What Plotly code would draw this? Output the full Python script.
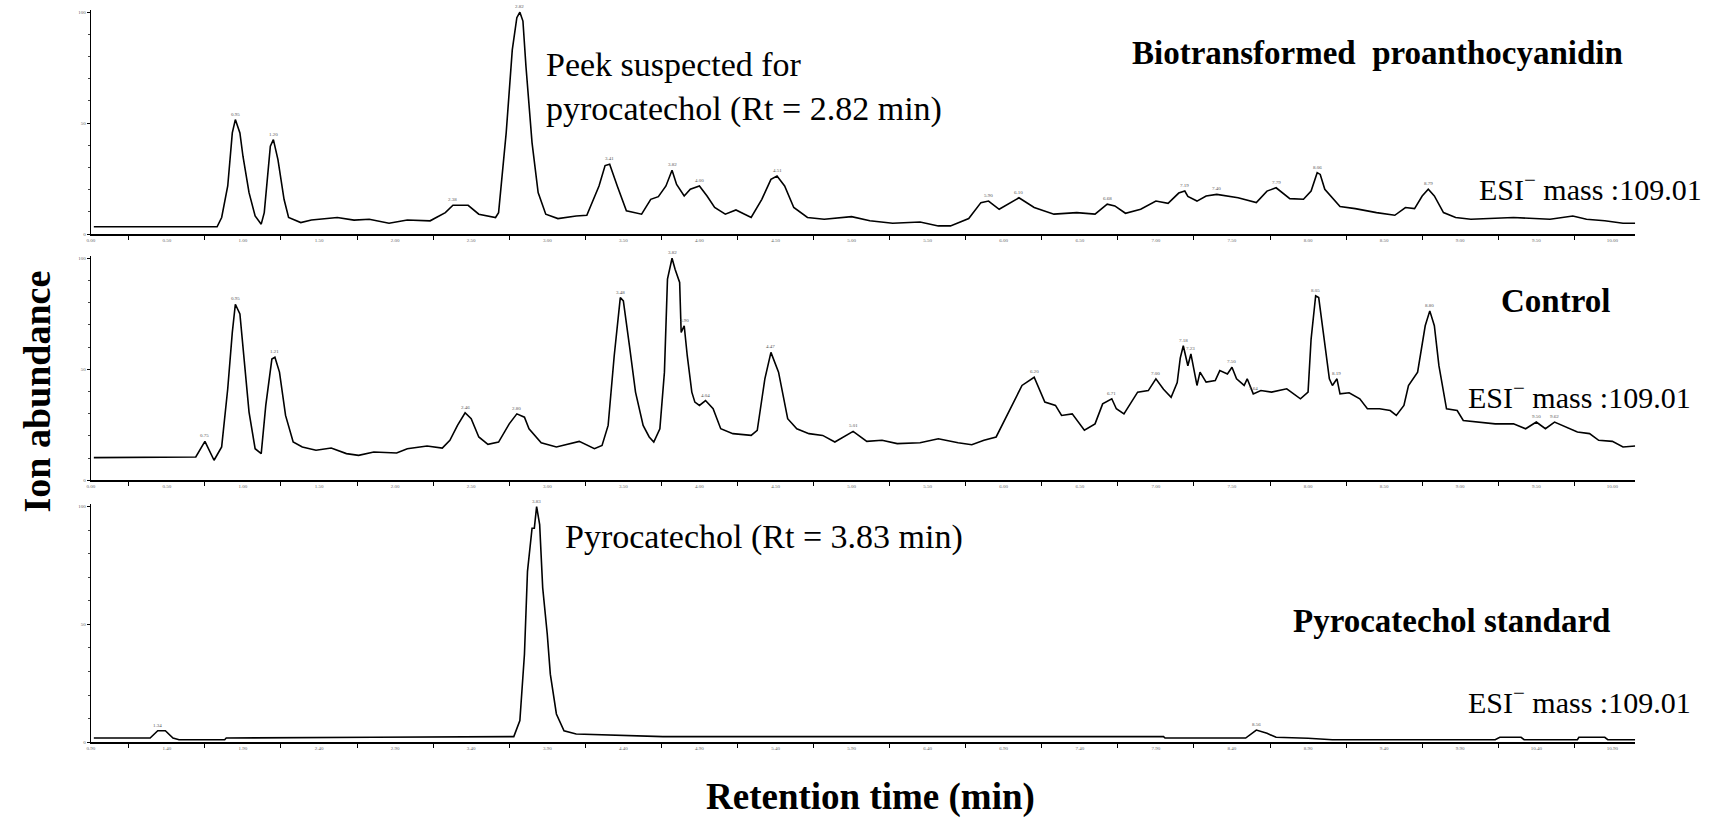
import plotly.graph_objects as go

# ---- chromatogram data: retention time (min) and relative ion abundance (%) ----
t_bio = [0.02, 0.83, 0.86, 0.90, 0.93, 0.95, 0.98, 1.00, 1.04, 1.08, 1.12, 1.14, 1.18, 1.20, 1.23,
         1.27, 1.30, 1.38, 1.45, 1.62, 1.73, 1.83, 1.96, 2.08, 2.23, 2.33, 2.38, 2.48, 2.55, 2.66,
         2.68, 2.73, 2.77, 2.80, 2.82, 2.84, 2.86, 2.90, 2.94, 2.99, 3.07, 3.19, 3.26, 3.34, 3.38,
         3.41, 3.46, 3.52, 3.62, 3.68, 3.73, 3.78, 3.82, 3.85, 3.90, 3.94, 4.00, 4.05, 4.10, 4.17,
         4.24, 4.34, 4.41, 4.47, 4.51, 4.56, 4.62, 4.71, 4.82, 5.00, 5.12, 5.27, 5.45, 5.57, 5.65,
         5.77, 5.85, 5.90, 5.97, 6.10, 6.20, 6.33, 6.48, 6.60, 6.68, 6.73, 6.80, 6.90, 7.00, 7.08,
         7.15, 7.19, 7.21, 7.27, 7.33, 7.40, 7.54, 7.66, 7.73, 7.79, 7.88, 7.97, 8.02, 8.06, 8.08,
         8.11, 8.21, 8.31, 8.45, 8.57, 8.64, 8.70, 8.75, 8.79, 8.83, 8.89, 8.97, 9.07, 9.35, 9.59,
         9.74, 9.83, 9.95, 10.07, 10.15]
ab_bio = [3.3, 3.3, 7.5, 21.7, 45.6, 51.6, 45.6, 35.1, 18.7, 8.2, 4.5, 9.7, 39.6, 42.6, 33.6,
          15.7, 7.5, 5.2, 6.4, 7.5, 6.3, 6.7, 4.9, 6.4, 6.0, 9.7, 13.0, 13.0, 9.0, 7.5,
          9.7, 45.6, 83.0, 97.5, 100.0, 96.0, 75.5, 41.1, 18.7, 9.0, 7.0, 8.2, 8.5, 21.7, 30.9,
          31.5, 21.7, 10.5, 9.0, 15.7, 16.9, 21.7, 28.8, 22.4, 17.2, 20.2, 21.7, 17.2, 12.0, 9.0,
          10.9, 7.5, 15.7, 24.7, 26.2, 21.7, 12.0, 7.5, 6.7, 7.9, 6.0, 4.9, 5.5, 3.7, 3.7,
          7.0, 14.2, 14.9, 11.2, 16.4, 12.0, 9.0, 9.7, 9.0, 13.5, 12.7, 9.4, 11.2, 14.9, 13.9,
          18.5, 19.4, 17.0, 14.9, 17.2, 17.9, 16.4, 14.2, 19.4, 20.9, 16.0, 15.7, 19.4, 27.7, 26.9,
          20.2, 12.4, 11.5, 9.7, 8.5, 12.0, 11.5, 17.2, 20.2, 17.2, 9.7, 7.5, 6.7, 7.5, 6.7,
          8.2, 6.7, 6.0, 4.9, 4.9]

t_ctrl = [0.02, 0.65, 0.69, 0.75, 0.81, 0.86, 0.90, 0.93, 0.95, 0.98, 1.00, 1.04, 1.08, 1.12, 1.15,
          1.19, 1.21, 1.24, 1.28, 1.33, 1.39, 1.48, 1.58, 1.68, 1.76, 1.86, 2.01, 2.08, 2.21, 2.31,
          2.36, 2.41, 2.46, 2.50, 2.55, 2.61, 2.68, 2.75, 2.80, 2.85, 2.88, 2.96, 3.06, 3.21, 3.31,
          3.36, 3.40, 3.44, 3.48, 3.50, 3.54, 3.58, 3.63, 3.67, 3.70, 3.74, 3.77, 3.79, 3.82, 3.84,
          3.87, 3.88, 3.90, 3.92, 3.95, 3.97, 4.00, 4.04, 4.09, 4.14, 4.22, 4.34, 4.38, 4.43, 4.47,
          4.52, 4.58, 4.64, 4.72, 4.81, 4.89, 5.01, 5.10, 5.20, 5.30, 5.45, 5.57, 5.70, 5.79, 5.87,
          5.95, 6.02, 6.12, 6.20, 6.27, 6.34, 6.38, 6.45, 6.53, 6.60, 6.65, 6.71, 6.74, 6.79, 6.88,
          6.95, 7.00, 7.05, 7.10, 7.14, 7.16, 7.18, 7.21, 7.23, 7.27, 7.29, 7.33, 7.39, 7.42, 7.47,
          7.50, 7.53, 7.58, 7.60, 7.64, 7.69, 7.76, 7.86, 7.95, 8.00, 8.02, 8.05, 8.07, 8.10, 8.14,
          8.16, 8.19, 8.21, 8.27, 8.34, 8.39, 8.47, 8.54, 8.58, 8.63, 8.66, 8.72, 8.77, 8.80, 8.83,
          8.86, 8.91, 8.98, 9.02, 9.12, 9.23, 9.35, 9.43, 9.50, 9.56, 9.62, 9.69, 9.77, 9.85, 9.91,
          10.00, 10.07, 10.15]
ab_ctrl = [10.2, 10.5, 10.5, 17.5, 9.0, 15.0, 41.2, 66.6, 79.3, 74.9, 59.1, 30.7, 14.2, 12.0, 33.7,
           54.6, 55.4, 48.7, 29.2, 17.2, 15.0, 13.5, 14.5, 12.0, 11.2, 12.7, 12.3, 14.2, 15.4, 14.5,
           18.0, 24.7, 30.4, 27.7, 19.5, 16.2, 17.2, 25.4, 29.9, 28.4, 23.2, 16.9, 15.0, 17.5, 14.2,
           15.7, 24.7, 56.1, 82.3, 80.8, 60.6, 39.7, 24.7, 19.5, 17.2, 23.2, 48.7, 90.6, 100.0, 95.1,
           89.1, 66.6, 69.6, 56.1, 39.7, 35.2, 33.7, 35.9, 32.2, 23.2, 21.0, 20.2, 22.5, 45.7, 57.6,
           48.7, 27.7, 23.2, 21.0, 20.2, 17.2, 22.0, 17.5, 18.0, 16.5, 16.9, 18.7, 16.9, 16.0, 18.0,
           19.5, 29.2, 42.7, 46.4, 35.2, 33.7, 29.2, 29.9, 22.5, 25.4, 34.4, 36.7, 32.2, 29.9, 39.7,
           40.4, 45.7, 41.0, 37.4, 44.0, 55.0, 60.6, 51.6, 56.9, 42.7, 48.7, 44.2, 44.9, 49.4, 47.9,
           50.9, 45.7, 42.7, 45.7, 38.9, 40.4, 39.7, 41.2, 36.7, 39.7, 63.6, 83.1, 82.3, 66.6, 45.7,
           42.7, 45.7, 38.9, 39.4, 36.7, 32.2, 32.2, 31.4, 29.2, 33.7, 42.7, 48.7, 69.6, 76.3, 69.6,
           51.6, 32.2, 31.4, 26.9, 26.2, 25.4, 25.4, 23.2, 26.2, 23.2, 26.2, 24.0, 21.7, 21.0, 18.0,
           17.5, 15.0, 15.4]

t_std = [0.92, 1.29, 1.34, 1.39, 1.44, 1.48, 1.78, 1.79, 2.76, 3.23, 3.68, 3.72, 3.75, 3.77, 3.80,
         3.815, 3.83, 3.85, 3.87, 3.90, 3.92, 3.96, 4.01, 4.09, 4.49, 4.66, 7.95, 7.96, 8.49, 8.56,
         8.63, 8.69, 8.90, 9.06, 10.13, 10.16, 10.30, 10.32, 10.67, 10.68, 10.85, 10.87, 11.05]
ab_std = [1.8, 1.8, 4.9, 4.9, 1.8, 1.1, 1.1, 1.8, 2.1, 2.4, 2.4, 9.2, 37.3, 72.5, 90.8,
          90.8, 100.0, 92.3, 65.5, 45.8, 28.9, 12.0, 4.9, 3.5, 2.8, 2.4, 2.4, 1.8, 1.8, 5.2,
          3.8, 2.1, 1.7, 1.1, 1.1, 2.1, 2.1, 1.1, 1.1, 2.1, 2.1, 1.1, 1.1]

# retention times of the integrated peaks that carry a small Rt tag
peaks_bio = [0.95, 1.20, 2.38, 2.82, 3.41, 3.82, 4.00, 4.51, 5.90, 6.10, 6.68, 7.19, 7.40, 7.79, 8.06, 8.79]
peaks_ctrl = [0.75, 0.95, 1.21, 2.46, 2.80, 3.48, 3.82, 3.90, 4.04, 4.47, 5.01, 6.20, 6.71, 7.00,
              7.18, 7.23, 7.50, 7.64, 8.05, 8.19, 8.80, 9.50, 9.62]
peaks_std = [1.34, 3.83, 8.56]

panel_titles = ["Biotransformed  proanthocyanidin", "Control", "Pyrocatechol standard"]
mass_label = "ESI<sup>\u2212</sup> mass :109.01"
note_bio = "Peek suspected for<br>pyrocatechol (Rt = 2.82 min)"
note_std = "Pyrocatechol (Rt = 3.83 min)"
x_title = "Retention time (min)"
y_title = "Ion abundance"

# ---- page geometry (pixels) ----
W, H = 1720, 820
SERIF = "Liberation Serif"


def px(x):
    return x / W


def py(y):
    return 1 - y / H


PLOT_L, PLOT_R = 87, 1635
PANELS = [  # (top, bottom) of each plot area in pixels
    (10, 235),
    (257, 482),
    (506, 745),
]
X_RANGES = [(0.0, 10.15), (0.0, 10.15), (0.90, 11.05)]

fig = go.Figure()

series = [(t_bio, ab_bio, peaks_bio), (t_ctrl, ab_ctrl, peaks_ctrl), (t_std, ab_std, peaks_std)]
annotations = []

for i, (ts, vs, pk) in enumerate(series):
    n = "" if i == 0 else str(i + 1)
    fig.add_trace(go.Scatter(
        x=ts, y=vs, mode="lines", xaxis="x" + n, yaxis="y" + n,
        line=dict(color="black", width=1.6), hoverinfo="skip", showlegend=False,
    ))
    # tiny retention-time tags on the peaks, taken from the nearest data point
    for p in pk:
        j = min(range(len(ts)), key=lambda k: abs(ts[k] - p))
        annotations.append(dict(
            x=ts[j], y=vs[j], xref="x" + n, yref="y" + n, text=f"{ts[j]:.2f}",
            showarrow=False, yanchor="bottom", yshift=1,
            font=dict(family=SERIF, size=5, color="#555"),
        ))

    top, bot = PANELS[i]
    x0, x1 = X_RANGES[i]
    major = [round(x0 + 0.5 * k, 2) for k in range(0, 30) if x0 + 0.5 * k <= x1]
    minor = [round(x0 + 0.25 + 0.5 * k, 2) for k in range(0, 30) if x0 + 0.25 + 0.5 * k <= x1]
    fig.layout["xaxis" + n] = dict(
        domain=[px(PLOT_L), px(PLOT_R)], range=[x0, x1], anchor="y" + n,
        showline=True, linecolor="black", linewidth=2, showgrid=False, zeroline=False,
        tickvals=major, ticktext=[f"{v:.2f}" for v in major], ticks="",
        tickfont=dict(family=SERIF, size=5, color="#666"),
        minor=dict(tickvals=minor, ticks="outside", ticklen=4, tickcolor="black", tickwidth=1),
        fixedrange=True,
    )
    fig.layout["yaxis" + n] = dict(
        domain=[py(bot), py(top)], range=[0, 101], anchor="x" + n,
        showline=True, linecolor="black", linewidth=1, showgrid=False, zeroline=False,
        tickvals=[0, 50, 100], ticktext=["0", "50", "100"], ticks="outside", ticklen=3,
        tickcolor="black", tickfont=dict(family=SERIF, size=5, color="#666"),
        minor=dict(tickvals=[10, 20, 30, 40, 60, 70, 80, 90], ticks="outside", ticklen=2,
                   tickcolor="#444"),
        fixedrange=True,
    )

# ---- panel labels ----
bold_pos = [(1625, 53), (1612, 302), (1612, 623)]
for title, (x, y) in zip(panel_titles, bold_pos):
    annotations.append(dict(
        x=px(x), y=py(y), xref="paper", yref="paper", text=f"<b>{title}</b>",
        showarrow=False, xanchor="right", yanchor="middle",
        font=dict(family=SERIF, size=33, color="black"),
    ))

mass_pos = [(1704, 188), (1693, 396), (1693, 703)]
for x, y in mass_pos:
    annotations.append(dict(
        x=px(x), y=py(y), xref="paper", yref="paper", text=mass_label,
        showarrow=False, xanchor="right", yanchor="middle",
        font=dict(family=SERIF, size=30, color="black"),
    ))

annotations.append(dict(
    x=px(541), y=py(87), xref="paper", yref="paper", text=note_bio, align="left",
    showarrow=False, xanchor="left", yanchor="middle",
    font=dict(family=SERIF, size=34, color="black"),
))
annotations.append(dict(
    x=px(560), y=py(539), xref="paper", yref="paper", text=note_std, align="left",
    showarrow=False, xanchor="left", yanchor="middle",
    font=dict(family=SERIF, size=34, color="black"),
))

# ---- axis titles ----
annotations.append(dict(
    x=px(869), y=py(800), xref="paper", yref="paper", text=f"<b>{x_title}</b>",
    showarrow=False, xanchor="center", yanchor="middle",
    font=dict(family=SERIF, size=37, color="black"),
))
annotations.append(dict(
    x=px(33), y=py(393), xref="paper", yref="paper", text=f"<b>{y_title}</b>",
    showarrow=False, xanchor="center", yanchor="middle", textangle=-90,
    font=dict(family=SERIF, size=38, color="black"),
))

fig.update_layout(
    width=W, height=H, margin=dict(l=0, r=0, t=0, b=0),
    paper_bgcolor="white", plot_bgcolor="white",
    annotations=annotations, showlegend=False,
)

fig.write_html("out.html", config={"displayModeBar": False})
